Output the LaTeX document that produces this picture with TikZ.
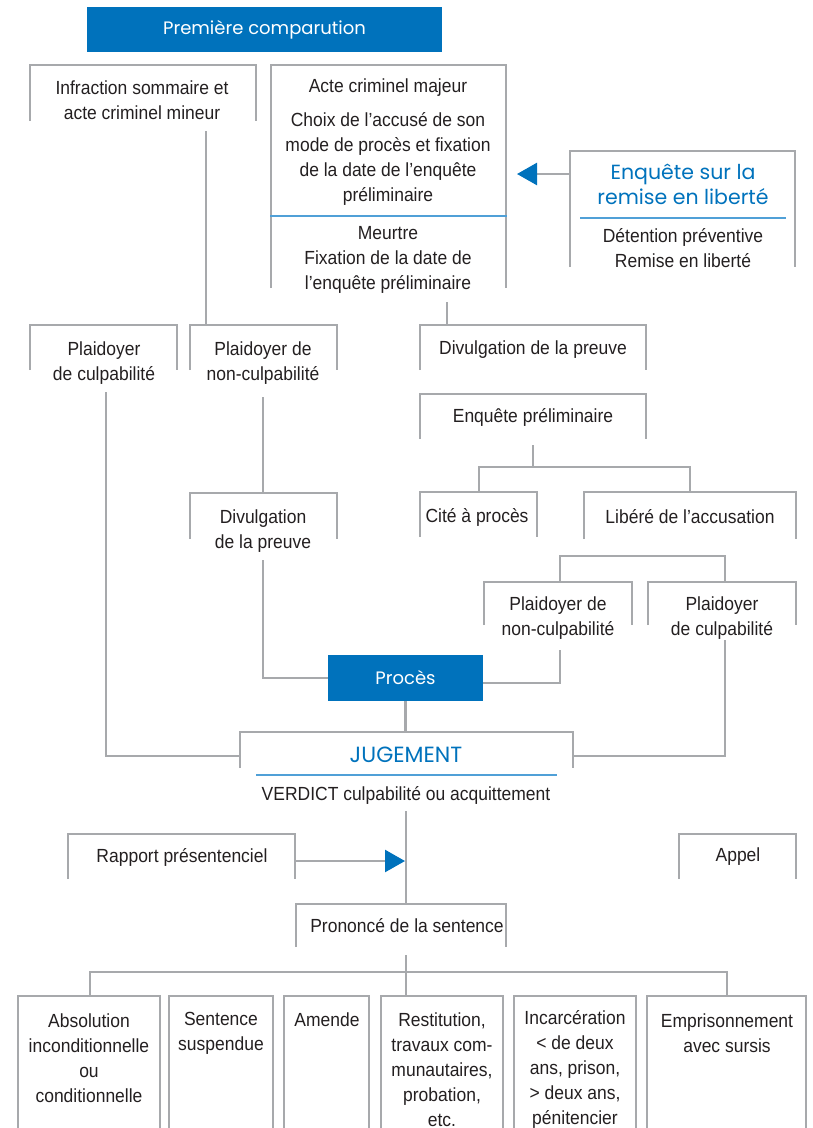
\documentclass[tikz,border=0pt]{standalone}
\usepackage{fontspec}
\setmainfont{Liberation Sans}[FakeStretch=0.92]
\newfontfamily\geofont{Poppins}
\usetikzlibrary{arrows.meta}

\definecolor{framegray}{RGB}{167,169,172}
\definecolor{flowblue}{RGB}{0,114,188}
\definecolor{ruleblue}{RGB}{80,160,215}
\definecolor{inkgray}{RGB}{35,31,32}

\tikzset{
  gline/.style={draw=framegray, line width=2.5pt, line join=miter},
  blueline/.style={draw=ruleblue, line width=2pt},
  frame/.style={draw=none, inner sep=0pt, outer sep=0pt},
  txt/.style={inner sep=0pt, align=center, text=inkgray, font=\fontsize{19}{25}\selectfont},
  bluetxt/.style={inner sep=0pt, align=center, text=flowblue, font=\geofont\fontsize{20.5}{25}\selectfont},
  bluebox/.style={fill=flowblue, draw=none, inner sep=0pt, text=white, font=\geofont\fontsize{18}{22}\selectfont},
  bluetip/.style={-{Triangle[length=20pt, width=22pt, color=flowblue]}},
}

% open-bottom frame: name, left, top, right, bottom
\newcommand{\bracketbox}[5]{%
  \node[frame, minimum width={(#4-#2)*1pt}, minimum height={(#5-#3)*1pt}, anchor=north west] (#1) at (#2,#3) {};
  \draw[gline] (#1.south west) |- (#1.north east) -- (#1.south east);
}

\begin{document}
\begin{tikzpicture}[x=1pt, y=-1pt]
\useasboundingbox (0,0) rectangle (812,1128);
\clip (0,0) rectangle (812,1128);

% ---- first appearance ----
\node[bluebox, minimum width=355pt, minimum height=45pt] (premiere) at (264.5,29.5) {Première comparution};

\bracketbox{infrbox}{30}{65}{256}{121}
\node[txt] (infrtxt) at (142,100) {Infraction sommaire et\\acte criminel mineur};

\bracketbox{actebox}{271}{65}{506}{288}
\node[txt] (actetxt) at (388,88) {Acte criminel majeur};
\node[txt] (choixtxt) at (388,158.5) {Choix de l’accusé de son\\mode de procès et fixation\\de la date de l’enquête\\préliminaire};
\draw[blueline] (270,216) -- (507,216);
\node[txt] (meurtretxt) at (388,259.5) {Meurtre\\Fixation de la date de\\l’enquête préliminaire};

\bracketbox{remisebox}{570}{151}{795}{267}
\node[bluetxt] (remisetxt) at (683,184.5) {Enquête sur la\\remise en liberté};
\draw[blueline] (580,218) -- (786,218);
\node[txt] (detentiontxt) at (683,248.5) {Détention préventive\\Remise en liberté};

\coordinate (remiseport) at (570,174);
\coordinate (actetip) at (517,174);
\draw[gline, bluetip] (remiseport) -- (actetip);

% ---- pleas ----
\bracketbox{pculA}{30}{325}{177}{370}
\node[txt] (pculAtxt) at (104,363.5) {Plaidoyer\\de culpabilité};
\bracketbox{pnonA}{190}{325}{337}{370}
\node[txt] (pnonAtxt) at (263,363.5) {Plaidoyer de\\non-culpabilité};
\bracketbox{divR}{420}{325}{646}{370}
\node[txt] (divRtxt) at (533,350) {Divulgation de la preuve};

\coordinate (infrout) at (206,131);
\draw[gline] (infrout) -- (infrout |- pnonA.north);
\coordinate (acteout) at (447,302);
\draw[gline] (acteout) -- (acteout |- divR.north);

\bracketbox{enqp}{420}{394}{646}{439}
\node[txt] (enqptxt) at (533,417) {Enquête préliminaire};

\bracketbox{cite}{420}{492}{537}{537}
\node[txt] (citetxt) at (477,517) {Cité à procès};
\bracketbox{libere}{584}{492}{796}{539}
\node[txt] (liberetxt) at (690,517) {Libéré de l’accusation};

\coordinate (enqpout) at (533,445);
\coordinate (splitA) at (479,467);
\coordinate (splitB) at (690,467);
\draw[gline] (enqpout) -- (enqpout |- splitA);
\draw[gline] (splitA |- cite.north) |- (splitB) -- (splitB |- libere.north);

\bracketbox{divL}{190}{493}{337}{539}
\node[txt] (divLtxt) at (263,531) {Divulgation\\de la preuve};
\coordinate (pnonAout) at (263,397);
\draw[gline] (pnonAout) -- (pnonAout |- divL.north);

\bracketbox{pnonB}{484}{582}{632}{625}
\node[txt] (pnonBtxt) at (558,618.5) {Plaidoyer de\\non-culpabilité};
\bracketbox{pculB}{648}{582}{796}{625}
\node[txt] (pculBtxt) at (722,618.5) {Plaidoyer\\de culpabilité};
\coordinate (pleaL) at (560,556);
\coordinate (pleaR) at (725,556);
\draw[gline] (pleaL |- pnonB.north) |- (pleaR) -- (pleaR |- pculB.north);

% ---- trial and judgment ----
\node[bluebox, minimum width=155pt, minimum height=46pt] (proces) at (405.5,678) {Procès};

\coordinate (divLout) at (263,560);
\draw[gline] (divLout) |- (proces.west);
\coordinate (pnonBout) at (560,650);
\coordinate (procesR) at (483,683);
\draw[gline] (pnonBout) |- (procesR);

\bracketbox{jugbox}{240}{732}{573}{768}
\node[bluetxt, font=\geofont\fontsize{22}{24}\selectfont] (jugtxt) at (406,755) {JUGEMENT};
\draw[blueline] (256,775) -- (557,775);
\node[txt] (verdicttxt) at (406,795) {VERDICT culpabilité ou acquittement};
\draw[gline] (proces.south) -- (proces.south |- jugbox.north);

\coordinate (pculAout) at (106,392);
\coordinate (jugL) at (240,756);
\draw[gline] (pculAout) |- (jugL);
\coordinate (pculBout) at (725,640);
\coordinate (jugR) at (573,756);
\draw[gline] (pculBout) |- (jugR);

% ---- sentencing ----
\bracketbox{rapport}{68}{834}{295}{879}
\node[txt] (rapporttxt) at (182,857) {Rapport présentenciel};
\bracketbox{appel}{679}{834}{796}{879}
\node[txt] (appeltxt) at (738,857) {Appel};

\bracketbox{prononce}{296}{904}{506}{947}
\node[txt] (prononcetxt) at (407,926) {Prononcé de la sentence};

\coordinate (verdictout) at (406,811);
\draw[gline] (verdictout) -- (verdictout |- prononce.north);
\coordinate (rapportout) at (295,861);
\coordinate (sentencetip) at (405,861);
\draw[gline, bluetip] (rapportout) -- (sentencetip);

\bracketbox{absol}{18}{996}{160}{1140}
\node[txt] (absoltxt) at (89,1058) {Absolution\\inconditionnelle\\ou\\conditionnelle};
\bracketbox{suspend}{169}{996}{273}{1140}
\node[txt] (suspendtxt) at (221,1033) {Sentence\\suspendue};
\bracketbox{amende}{284}{996}{369}{1140}
\node[txt] (amendetxt) at (327,1020) {Amende};
\bracketbox{restit}{381}{996}{503}{1140}
\node[txt] (restittxt) at (442,1070) {Restitution,\\travaux com-\\munautaires,\\probation,\\etc.};
\bracketbox{incarc}{514}{996}{636}{1140}
\node[txt] (incarctxt) at (575,1069) {Incarcération\\< de deux\\ans, prison,\\> deux ans,\\pénitencier};
\bracketbox{empris}{647}{996}{806}{1140}
\node[txt] (empristxt) at (727,1033) {Emprisonnement\\avec sursis};

\coordinate (prononceout) at (406,955);
\coordinate (fanL) at (90,972);
\coordinate (fanR) at (727,972);
\draw[gline] (prononceout) -- (prononceout |- restit.north);
\draw[gline] (fanL |- absol.north) |- (fanR) -- (fanR |- empris.north);
\end{tikzpicture}
\end{document}
